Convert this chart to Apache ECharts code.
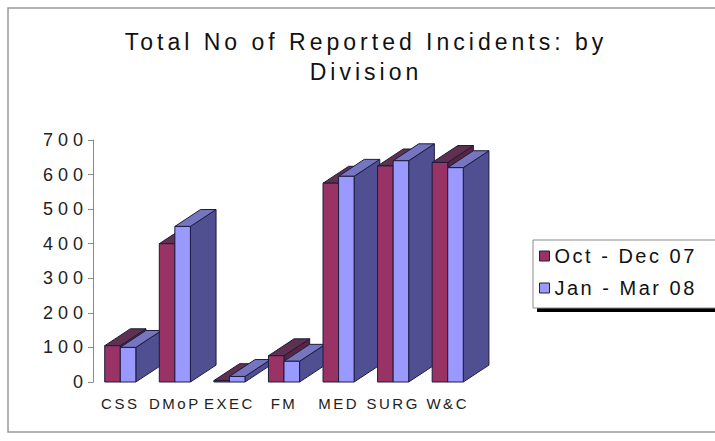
<!DOCTYPE html>
<html>
<head>
<meta charset="utf-8">
<script src="https://cdn.jsdelivr.net/npm/echarts@6/dist/echarts.min.js"></script>
<style>
  html, body { margin: 0; padding: 0; background: #ffffff; }
  #chart { width: 715px; height: 441px; }
  /* spaced-out lettering, tuned per text size */
  #chart text { letter-spacing: 3px; }
  #chart text[style*="23px"] { letter-spacing: 4px; }
  #chart text[style*="20px"] { letter-spacing: 2.5px; }
  #chart text[style*="18px"] { letter-spacing: 5px; }
  #chart text[style*="15px"] { letter-spacing: 2.5px; }
</style>
</head>
<body>
<div id="chart"></div>
<script>
// Divisions along the category axis
const categories = ['CSS', 'DMoP', 'EXEC', 'FM', 'MED', 'SURG', 'W&C'];
// Reported incidents per quarter
const octDec07 = [105, 400, 4, 76, 575, 625, 635];
const janMar08 = [100, 450, 16, 60, 595, 640, 620];
// Value axis range
const yMin = 0;
const yMax = 700;
const yStep = 100;

const FONT = "'Liberation Sans Narrow', 'Arial Narrow', 'Liberation Sans', Arial, sans-serif";
const EDGE = '#1c1c3c';

const palettes = [
  { front: '#993366', top: '#5f3050', side: '#5a2440' },
  { front: '#9999ff', top: '#7676c0', side: '#4f4f92' }
];

// Draws one extruded column: side face, top face, then the front face.
function makeColumn(slot, pal) {
  return function (params, api) {
    const i = api.value(0);
    const v = api.value(1);
    const pBase = api.coord([i, 0]);
    const pTop = api.coord([i, v]);
    const band = api.size([1, 0])[0];
    const w = band * 0.285;
    const dx = band * 0.47;
    const dy = -band * 0.31;
    const xL = pBase[0] - w + slot * w;
    const xR = xL + w;
    const yB = pBase[1];
    const yT = pTop[1];
    const base = i * 10 + slot * 4;
    const line = { stroke: EDGE, lineWidth: 1, lineJoin: 'round' };
    return {
      type: 'group',
      children: [
        {
          type: 'polygon', z2: base,
          shape: { points: [[xR, yB], [xR + dx, yB + dy], [xR + dx, yT + dy], [xR, yT]] },
          style: Object.assign({ fill: pal.side }, line)
        },
        {
          type: 'polygon', z2: base + 1,
          shape: { points: [[xL, yT], [xR, yT], [xR + dx, yT + dy], [xL + dx, yT + dy]] },
          style: Object.assign({ fill: pal.top }, line)
        },
        {
          type: 'rect', z2: base + 2,
          shape: { x: xL, y: yT, width: w, height: yB - yT },
          style: Object.assign({ fill: pal.front }, line)
        }
      ]
    };
  };
}

const chart = echarts.init(document.getElementById('chart'), null, { renderer: 'svg' });

chart.setOption({
  animation: false,
  backgroundColor: '#ffffff',
  textStyle: { fontFamily: FONT },
  title: {
    text: 'Total No of Reported Incidents: by\nDivision',
    left: 366,
    top: 27,
    padding: 0,
    textAlign: 'center',
    textStyle: { fontFamily: FONT, fontSize: 23, fontWeight: 'normal', color: '#111', lineHeight: 30 }
  },
  grid: { left: 93, top: 140, bottom: 59, width: 382 },
  xAxis: {
    type: 'category',
    data: categories,
    boundaryGap: true,
    axisLine: { show: false },
    axisTick: { show: false },
    axisLabel: { interval: 0, fontFamily: FONT, fontSize: 15, color: '#222', margin: 14 }
  },
  yAxis: {
    type: 'value',
    min: yMin,
    max: yMax,
    interval: yStep,
    splitLine: { show: false },
    axisLine: { show: true, lineStyle: { color: '#8a8a8a', width: 1 } },
    axisTick: { show: true, length: 5, lineStyle: { color: '#8a8a8a' } },
    axisLabel: { fontFamily: FONT, fontSize: 18, color: '#222', margin: 5 }
  },
  legend: {
    orient: 'vertical',
    left: 539,
    top: 246,
    itemWidth: 10,
    itemHeight: 10,
    itemGap: 12,
    icon: 'rect',
    padding: 0,
    itemStyle: { borderColor: '#222', borderWidth: 1 },
    textStyle: { fontFamily: FONT, fontSize: 20, color: '#111' },
    data: ['Oct - Dec 07', 'Jan - Mar 08']
  },
  graphic: [
    // outer chart frame
    { type: 'rect', shape: { x: 8, y: 8, width: 720, height: 424 }, style: { fill: 'none', stroke: '#9a9a9a', lineWidth: 1.5 }, z: -10 },
    // legend box with its drop shadow
    { type: 'rect', shape: { x: 537, y: 244, width: 200, height: 68 }, style: { fill: '#000' }, z: 0 },
    { type: 'rect', shape: { x: 533, y: 240, width: 200, height: 68 }, style: { fill: '#fff', stroke: '#8a8a8a', lineWidth: 1 }, z: 1 }
  ],
  series: [
    {
      name: 'Oct - Dec 07',
      type: 'custom',
      renderItem: makeColumn(0, palettes[0]),
      itemStyle: { color: palettes[0].front },
      encode: { x: 0, y: 1 },
      data: octDec07.map((v, i) => [i, v]),
      z: 2
    },
    {
      name: 'Jan - Mar 08',
      type: 'custom',
      renderItem: makeColumn(1, palettes[1]),
      itemStyle: { color: palettes[1].front },
      encode: { x: 0, y: 1 },
      data: janMar08.map((v, i) => [i, v]),
      z: 2
    }
  ]
});
</script>
</body>
</html>
